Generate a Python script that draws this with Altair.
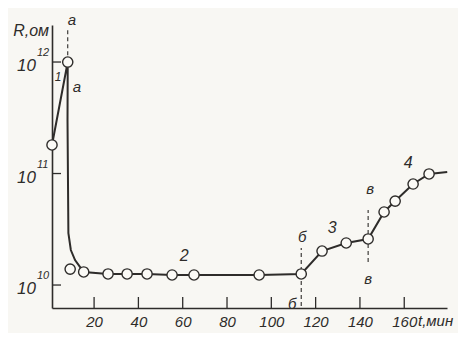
import altair as alt
import pandas as pd

# ---- data (t in minutes, R given as log10 of ohms) ----
pt_t = [1.0, 8.1, 9.2, 15.3, 26.3, 34.9, 43.9, 55.2, 65.1, 94.5, 113.5,
        122.9, 133.8, 143.7, 150.9, 155.9, 164.0, 171.2]
pt_lg = [11.256, 12.0, 10.143, 10.117, 10.099, 10.099, 10.099, 10.090, 10.090,
         10.090, 10.099, 10.305, 10.377, 10.413, 10.655, 10.753, 10.906, 10.996]

line_t = [1.0, 8.1, 8.0, 8.4, 9.5, 11.4, 13.7, 15.3, 26.3, 34.9, 43.9, 55.2,
          65.1, 94.5, 113.5, 122.9, 133.8, 143.7, 150.9, 155.9, 164.0, 171.2, 179.4]
line_lg = [11.256, 12.0, 11.48, 10.466, 10.314, 10.224, 10.161, 10.117, 10.099,
           10.099, 10.099, 10.090, 10.090, 10.090, 10.099, 10.305, 10.377, 10.413,
           10.655, 10.753, 10.906, 10.996, 11.013]

dash_t = [8.1, 113.5, 143.7]
dash_lo = [12.06, 9.812, 10.206]
dash_hi = [12.287, 10.332, 10.673]

xtick_vals = [20, 40, 60, 80, 100, 120, 140, 160]
ytick_exp = [10, 11, 12]

ann_text = ["а", "а", "1", "2", "3", "4", "б", "б", "в", "в"]
ann_t = [10.0, 12.3, 3.7, 60.7, 127.5, 161.8, 113.9, 109.4, 144.6, 143.7]
ann_lg = [12.377, 11.776, 11.865, 10.260, 10.511, 11.094, 10.430, 9.830, 10.861, 10.054]
ann_size = [15, 15, 12, 16, 16, 16, 15, 15, 15, 15]

INK = "#2e2c2a"
BG = "#f8f7f3"
FONT = "Liberation Sans Narrow, Liberation Sans, sans-serif"

def p10(v):
    return [10 ** x for x in v]

pts = pd.DataFrame({"t": pt_t, "R": p10(pt_lg)})
line = pd.DataFrame({"i": list(range(len(line_t))), "t": line_t, "R": p10(line_lg)})
dash = pd.DataFrame({"t": dash_t, "R": p10(dash_lo), "R2": p10(dash_hi)})
xt = pd.DataFrame({"t": xtick_vals})
yt = pd.DataFrame({"e": ytick_exp, "R": [10.0 ** e for e in ytick_exp],
                   "sup": [str(e) for e in ytick_exp]})
ann = pd.DataFrame({"txt": ann_text, "t": ann_t, "R": p10(ann_lg), "fs": ann_size})

xs = alt.Scale(domain=[1.0, 179.3], nice=False, zero=False)
ys = alt.Scale(type="log", domain=[10 ** 9.794, 10 ** 12.332], nice=False)

xaxis = alt.Axis(values=xtick_vals, title=None, grid=False, ticks=False, tickSize=0,
                 labelFont=FONT, labelFontStyle="italic", labelFontSize=15,
                 labelColor=INK, labelPadding=6, domainColor=INK, domainWidth=1.6)
yaxis = alt.Axis(labels=False, ticks=False, tickSize=0, grid=False, title=None,
                 domainColor=INK, domainWidth=1.6)

X = alt.X("t:Q", scale=xs, axis=xaxis)
Y = alt.Y("R:Q", scale=ys, axis=yaxis)

curve = alt.Chart(line).mark_line(color=INK, strokeWidth=2).encode(
    x=X, y=Y, order="i:Q")

circles = alt.Chart(pts).mark_circle(fill="#fbfaf6", stroke=INK, strokeWidth=1.4,
                                     size=105, opacity=1).encode(x=X, y=Y)

dashes = alt.Chart(dash).mark_rule(color=INK, strokeWidth=1.1, strokeDash=[4, 3]).encode(
    x=X, y=Y, y2="R2:Q")

xticks = alt.Chart(xt).mark_rule(color=INK, strokeWidth=1.3).encode(
    x=X, y=alt.value(272), y2=alt.value(283))

yticks = alt.Chart(yt).mark_rule(color=INK, strokeWidth=1.3).encode(
    y=Y, x=alt.value(0), x2=alt.value(9))

ylab = alt.Chart(yt).mark_text(font=FONT, fontStyle="italic", fontSize=17, color=INK,
                               align="right", baseline="middle", dy=4).encode(
    y=Y, x=alt.value(-16), text=alt.value("10"))

ysup = alt.Chart(yt).mark_text(font=FONT, fontStyle="italic", fontSize=11, color=INK,
                               align="left", baseline="middle", dy=-9).encode(
    y=Y, x=alt.value(-15), text="sup:N")

ann_layer = alt.Chart(ann).mark_text(font=FONT, fontStyle="italic", color=INK,
                                     align="center", baseline="middle").encode(
    x=X, y=Y, text="txt:N", size=alt.Size("fs:Q", scale=None, legend=None))

rlab = alt.Chart(pd.DataFrame({"s": ["R,ом"]})).mark_text(
    font=FONT, fontStyle="italic", fontSize=16, color=INK, align="right",
    baseline="middle").encode(x=alt.value(-3), y=alt.value(6), text="s:N")

tlab = alt.Chart(pd.DataFrame({"s": ["t,мин"]})).mark_text(
    font=FONT, fontStyle="italic", fontSize=15, color=INK, align="left",
    baseline="middle").encode(x=alt.value(366), y=alt.value(296), text="s:N")

chart = alt.layer(curve, dashes, circles, xticks, yticks, ylab, ysup, ann_layer,
                  rlab, tlab).properties(
    width=395, height=283, autosize="none",
    padding={"left": 44, "top": 17, "right": 11, "bottom": 25},
    background=BG,
).configure_view(stroke=None)

chart.save("out.html", embed_options={"renderer": "svg", "actions": False})
